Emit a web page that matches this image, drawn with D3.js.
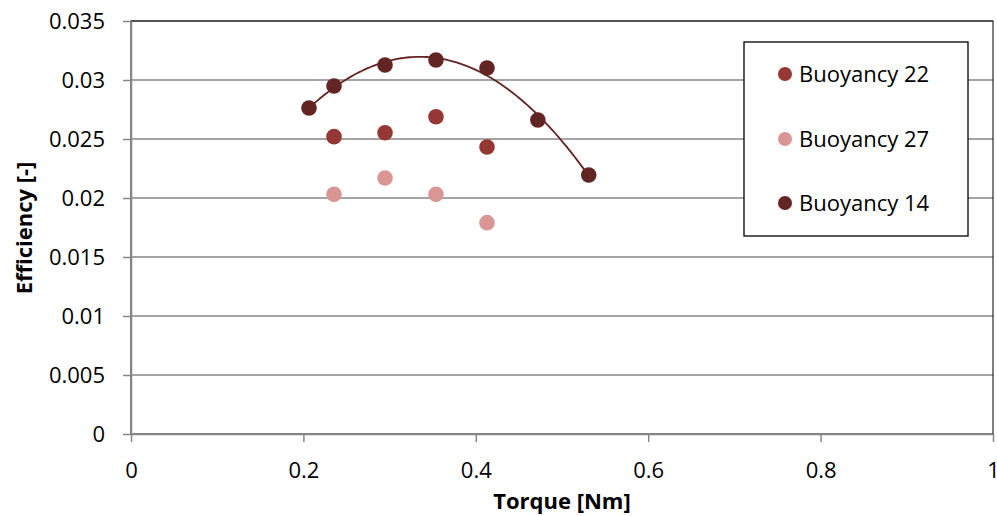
<!DOCTYPE html>
<html><head><meta charset="utf-8">
<script src="https://cdn.jsdelivr.net/npm/d3@7"></script>
<style>body{margin:0;background:#fff;} text{font-family:"Open Sans","Noto Sans",sans-serif;}</style>
</head><body><svg id="c" width="997" height="516"></svg>
<script>
const seriesNames = ["Buoyancy 22", "Buoyancy 27", "Buoyancy 14"];
const seriesColors = ["#953735", "#D99694", "#632523"];
const torque22 = [0.2355, 0.2947, 0.3538, 0.4130];
const eff22 = [0.0252, 0.02553, 0.02689, 0.02432];
const torque27 = [0.2355, 0.2947, 0.3538, 0.4130];
const eff27 = [0.02031, 0.02169, 0.02031, 0.01791];
const torque14 = [0.2065, 0.2355, 0.2947, 0.3538, 0.4130, 0.4720, 0.5310];
const eff14 = [0.02763, 0.02949, 0.03127, 0.03169, 0.03102, 0.02661, 0.02195];
const xTicks = [0, 0.2, 0.4, 0.6, 0.8, 1];
const yTicks = [0, 0.005, 0.01, 0.015, 0.02, 0.025, 0.03, 0.035];

const svg = d3.select("#c");
const L = 131, R = 993, T = 21, B = 434;
const x = d3.scaleLinear().domain([0, 1]).range([L, R]);
const y = d3.scaleLinear().domain([0, 0.035]).range([B, T]);

// gridlines
svg.append("g").selectAll("line").data(yTicks.slice(1)).join("line")
  .attr("x1", L).attr("x2", R).attr("y1", d => y(d)).attr("y2", d => y(d))
  .attr("stroke", "#868686").attr("stroke-width", 1.5);
// plot border
svg.append("rect").attr("x", L).attr("y", T).attr("width", R - L).attr("height", B - T)
  .attr("fill", "none").attr("stroke", "#000").attr("stroke-width", 1);

// axes
const yAxis = svg.append("g").attr("transform", `translate(${L},0)`)
  .call(d3.axisLeft(y).tickValues(yTicks).tickFormat(d => d === 0 ? "0" : String(+d.toFixed(3))).tickSize(8).tickSizeOuter(0));
const xAxis = svg.append("g").attr("transform", `translate(0,${B})`)
  .call(d3.axisBottom(x).tickValues(xTicks).tickFormat(d => String(d)).tickSize(8).tickSizeOuter(0));
[yAxis, xAxis].forEach(a => {
  a.select(".domain").attr("stroke", "#868686").attr("stroke-width", 1.5);
  a.selectAll(".tick line").attr("stroke", "#868686").attr("stroke-width", 1.5);
  a.selectAll("text").attr("font-size", 22).attr("fill", "#000").attr("font-family", "Open Sans, sans-serif");
});
yAxis.selectAll("text").attr("x", -26).attr("dy", "0.35em");
xAxis.selectAll("text").attr("y", 36).attr("dy", "0.35em");

// trendline: quadratic least squares on Buoyancy 14
function polyfit2(xs, ys) {
  const n = xs.length;
  let s = [0,0,0,0,0], t = [0,0,0];
  for (let i = 0; i < n; i++) {
    for (let k = 0; k < 5; k++) s[k] += Math.pow(xs[i], k);
    for (let k = 0; k < 3; k++) t[k] += ys[i] * Math.pow(xs[i], k);
  }
  const M = [[s[0],s[1],s[2],t[0]],[s[1],s[2],s[3],t[1]],[s[2],s[3],s[4],t[2]]];
  for (let i = 0; i < 3; i++) {
    for (let j = i + 1; j < 3; j++) {
      const f = M[j][i] / M[i][i];
      for (let k = i; k < 4; k++) M[j][k] -= f * M[i][k];
    }
  }
  const c = [0,0,0];
  for (let i = 2; i >= 0; i--) {
    let v = M[i][3];
    for (let k = i + 1; k < 3; k++) v -= M[i][k] * c[k];
    c[i] = v / M[i][i];
  }
  return c;
}
const coef = polyfit2(torque14, eff14);
const xmin = d3.min(torque14), xmax = d3.max(torque14);
const trend = d3.range(0, 101).map(i => {
  const t = xmin + (xmax - xmin) * i / 100;
  return [t, coef[0] + coef[1] * t + coef[2] * t * t];
});
svg.append("path").datum(trend)
  .attr("d", d3.line().x(d => x(d[0])).y(d => y(d[1])))
  .attr("fill", "none").attr("stroke", "#632523").attr("stroke-width", 1.8);

// points
const series = [
  { xs: torque22, ys: eff22, c: seriesColors[0] },
  { xs: torque27, ys: eff27, c: seriesColors[1] },
  { xs: torque14, ys: eff14, c: seriesColors[2] }
];
series.forEach(s => {
  svg.append("g").selectAll("circle").data(s.xs.map((v, i) => [v, s.ys[i]])).join("circle")
    .attr("cx", d => x(d[0])).attr("cy", d => y(d[1])).attr("r", 7.8).attr("fill", s.c);
});

// axis titles
svg.append("text").attr("x", 562).attr("y", 509).attr("text-anchor", "middle")
  .attr("font-size", 22).attr("font-weight", "bold").text("Torque [Nm]");
svg.append("text").attr("transform", "translate(32,228) rotate(-90)").attr("text-anchor", "middle")
  .attr("font-size", 22).attr("font-weight", "bold").text("Efficiency [-]");

// legend
const lg = svg.append("g");
lg.append("rect").attr("x", 744).attr("y", 42).attr("width", 224).attr("height", 194)
  .attr("fill", "#fff").attr("stroke", "#000").attr("stroke-width", 1.3);
const ly = [74, 139, 203];
seriesNames.forEach((n, i) => {
  lg.append("circle").attr("cx", 785).attr("cy", ly[i]).attr("r", 7).attr("fill", seriesColors[i]);
  lg.append("text").attr("x", 799).attr("y", ly[i]).attr("dy", "0.35em").attr("font-size", 22).text(n);
});
</script></body></html>
